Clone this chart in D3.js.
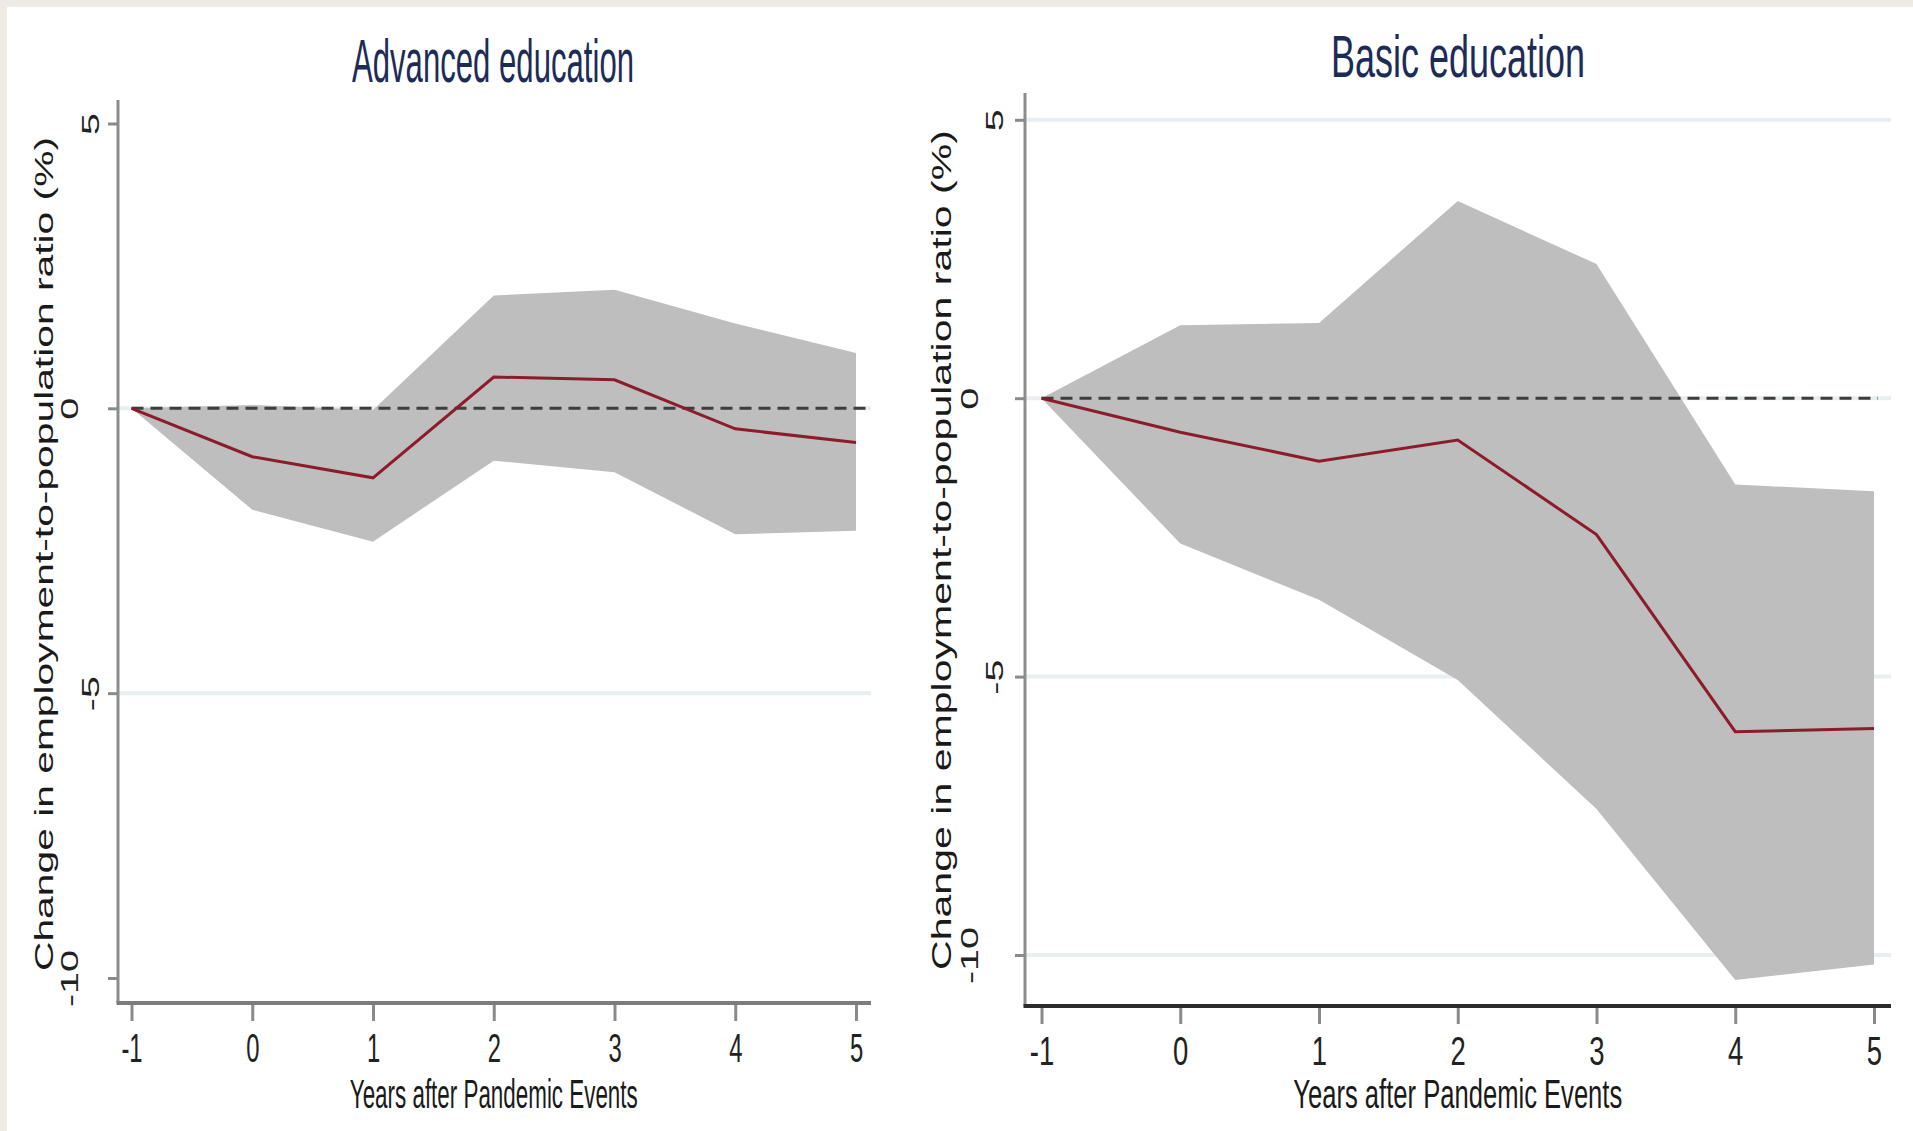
<!DOCTYPE html>
<html>
<head>
<meta charset="utf-8">
<script src="https://cdn.jsdelivr.net/npm/d3@7"></script>
<style>
  html, body { margin: 0; padding: 0; background: #ffffff; }
  svg { display: block; }
</style>
</head>
<body>
<svg id="chart" width="1913" height="1131"></svg>
<script>
// Event-study estimates: change in employment-to-population ratio (%)
const years = [-1, 0, 1, 2, 3, 4, 5];
const yTickValues = [5, 0, -5, -10];

const advancedEstimate = [0, -0.85, -1.22, 0.55, 0.50, -0.36, -0.60];
const advancedUpper    = [0, 0.06, -0.03, 1.98, 2.08, 1.49, 0.97];
const advancedLower    = [0, -1.78, -2.34, -0.92, -1.12, -2.21, -2.15];

const basicEstimate = [0, -0.61, -1.13, -0.75, -2.45, -5.99, -5.93];
const basicUpper    = [0, 1.31, 1.35, 3.54, 2.41, -1.55, -1.67];
const basicLower    = [0, -2.61, -3.62, -5.06, -7.38, -10.45, -10.17];

const titles = ["Advanced education", "Basic education"];
const xAxisTitle = "Years after Pandemic Events";
const yAxisTitle = "Change in employment-to-population ratio (%)";

// Panel geometry and styling
const layout = [
  {
    xRange: [131.5, 856], yRange: [978, 123.5],
    left: 118, right: 871, axisTop: 100, axisBottom: 1003, dashEnd: 871,
    grid: [0, -5],
    titleX: 493, titleY: 82, titleSize: 61, titleLen: 282,
    xTitleY: 1108, xTitleLen: 288,
    yTitleX: 53, yTitleY: 554, yTitleSize: 25, yTitleLen: 834,
    tickScaleX: 0.58, xAxisColor: "#7c7c7c",
    nearOffset: 19, farOffset: 40
  },
  {
    xRange: [1041.5, 1874], yRange: [955, 119.8],
    left: 1025, right: 1891, axisTop: 93, axisBottom: 1006, dashEnd: 1878,
    grid: [5, 0, -5, -10],
    titleX: 1458, titleY: 77, titleSize: 60, titleLen: 254,
    xTitleY: 1108, xTitleLen: 329,
    yTitleX: 951, yTitleY: 550, yTitleSize: 27, yTitleLen: 840,
    tickScaleX: 0.67, xAxisColor: "#2b2b2b",
    nearOffset: 22, farOffset: 47
  }
];

const series = [
  { est: advancedEstimate, lo: advancedLower, hi: advancedUpper },
  { est: basicEstimate, lo: basicLower, hi: basicUpper }
];

const svg = d3.select("#chart");
const FONT = "'Liberation Sans', Arial, Helvetica, sans-serif";

// Frame strips along the top and left edges
svg.append("rect").attr("x", 0).attr("y", 0).attr("width", 1913).attr("height", 7).attr("fill", "#eeebe4");
svg.append("rect").attr("x", 0).attr("y", 0).attr("width", 7).attr("height", 1131).attr("fill", "#eeebe4");

layout.forEach((L, i) => {
  const s = series[i];
  const g = svg.append("g");
  const x = d3.scaleLinear().domain([-1, 5]).range(L.xRange);
  const y = d3.scaleLinear().domain([-10, 5]).range(L.yRange);

  const rows = years.map((yr, k) => ({ yr, est: s.est[k], lo: s.lo[k], hi: s.hi[k] }));

  // Horizontal gridlines
  g.selectAll(".grid").data(L.grid).join("line")
    .attr("x1", L.left).attr("x2", L.right)
    .attr("y1", d => y(d)).attr("y2", d => y(d))
    .attr("stroke", "#e7eff1").attr("stroke-width", 4);

  // Confidence band
  g.append("path").datum(rows)
    .attr("d", d3.area().x(d => x(d.yr)).y0(d => y(d.lo)).y1(d => y(d.hi)))
    .attr("fill", "#bebebe");

  // Zero reference line
  g.append("line")
    .attr("x1", x(-1)).attr("x2", L.dashEnd)
    .attr("y1", y(0)).attr("y2", y(0))
    .attr("stroke", "#3d3d3d").attr("stroke-width", 3)
    .attr("stroke-dasharray", "12,7");

  // Point estimates
  g.append("path").datum(rows)
    .attr("d", d3.line().x(d => x(d.yr)).y(d => y(d.est)))
    .attr("fill", "none").attr("stroke", "#8c1c2c").attr("stroke-width", 3)
    .attr("stroke-linejoin", "miter");

  // Y axis
  const yAxis = g.append("g").attr("transform", `translate(${L.left},0)`)
    .call(d3.axisLeft(y).tickValues(yTickValues).tickSize(10).tickSizeOuter(0).tickFormat(d3.format("d")));
  yAxis.select(".domain").remove();
  yAxis.selectAll(".tick line").attr("stroke", "#8a8a8a").attr("stroke-width", 3);
  yAxis.selectAll(".tick text")
    .attr("x", null).attr("dy", null)
    .attr("text-anchor", "middle")
    .attr("font-family", FONT).attr("font-size", 24).attr("fill", "#222")
    .text(d => d < 0 ? "-" + Math.abs(d) : String(d))
    .attr("transform", (d, k) => {
      const off = (k % 2 === 0) ? L.nearOffset : L.farOffset;
      return `translate(${-off},0) rotate(-90) scale(1.65,1)`;
    });
  g.append("line")
    .attr("x1", L.left).attr("x2", L.left)
    .attr("y1", L.axisTop).attr("y2", L.axisBottom)
    .attr("stroke", "#8c8c8c").attr("stroke-width", 3);

  // X axis
  const xAxis = g.append("g").attr("transform", `translate(0,${L.axisBottom})`)
    .call(d3.axisBottom(x).tickValues(years).tickSize(18).tickSizeOuter(0).tickFormat(d3.format("d")));
  xAxis.select(".domain").remove();
  xAxis.selectAll(".tick line").attr("stroke", "#8a8a8a").attr("stroke-width", 3);
  xAxis.selectAll(".tick text")
    .attr("y", null).attr("dy", null)
    .attr("text-anchor", "middle")
    .attr("font-family", FONT).attr("font-size", 41).attr("fill", "#222")
    .text(d => d < 0 ? "-" + Math.abs(d) : String(d))
    .attr("transform", `translate(0,59) scale(${L.tickScaleX},1)`);
  g.append("line")
    .attr("x1", L.left - 1.5).attr("x2", L.right)
    .attr("y1", L.axisBottom).attr("y2", L.axisBottom)
    .attr("stroke", L.xAxisColor).attr("stroke-width", 4);

  // Panel title
  g.append("text")
    .attr("x", L.titleX).attr("y", L.titleY)
    .attr("text-anchor", "middle")
    .attr("font-family", FONT).attr("font-size", L.titleSize)
    .attr("fill", "#1d2b58")
    .attr("textLength", L.titleLen).attr("lengthAdjust", "spacingAndGlyphs")
    .text(titles[i]);

  // X axis title
  g.append("text")
    .attr("x", d3.mean(L.xRange)).attr("y", L.xTitleY)
    .attr("text-anchor", "middle")
    .attr("font-family", FONT).attr("font-size", 40)
    .attr("fill", "#1a1a1a")
    .attr("textLength", L.xTitleLen).attr("lengthAdjust", "spacingAndGlyphs")
    .text(xAxisTitle);

  // Y axis title
  g.append("text")
    .attr("transform", `translate(${L.yTitleX},${L.yTitleY}) rotate(-90)`)
    .attr("text-anchor", "middle")
    .attr("font-family", FONT).attr("font-size", L.yTitleSize)
    .attr("fill", "#1a1a1a")
    .attr("textLength", L.yTitleLen).attr("lengthAdjust", "spacingAndGlyphs")
    .text(yAxisTitle);
});
</script>
</body>
</html>
